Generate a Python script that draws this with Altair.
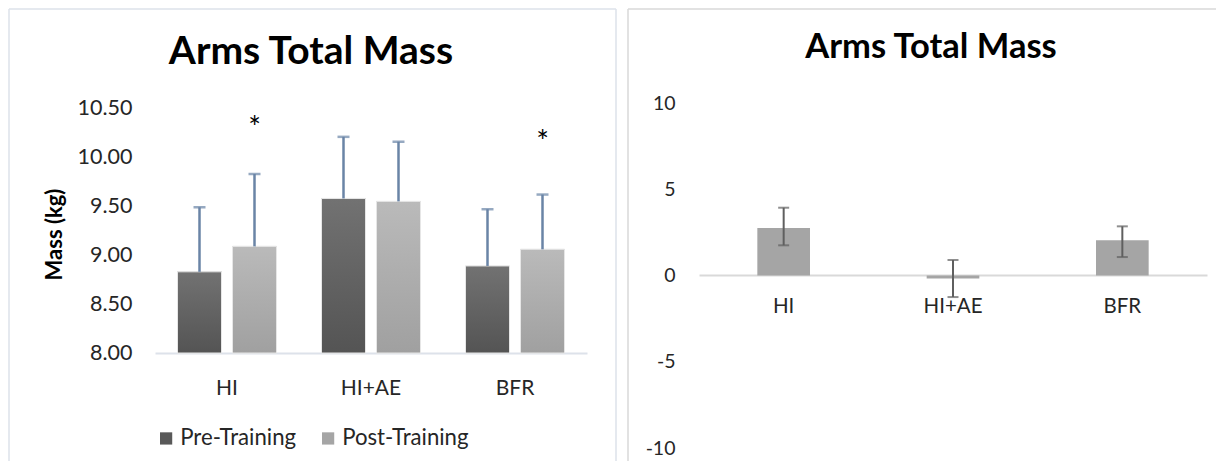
import altair as alt
import pandas as pd

# ---------------- data ----------------
groups = ["HI", "HI+AE", "BFR"]
series = ["Pre-Training", "Post-Training"]
pre_mean = [8.83, 9.58, 8.89]
pre_sd = [0.66, 0.63, 0.58]
post_mean = [9.09, 9.55, 9.06]
post_sd = [0.74, 0.61, 0.56]
star_groups = ["HI", "BFR"]
star_values = [10.36, 10.22]

diff_mean = [2.75, -0.17, 2.04]
diff_err_hi = [3.93, 0.90, 2.85]
diff_err_lo = [1.75, -1.25, 1.07]

left_ticks = [8.0, 8.5, 9.0, 9.5, 10.0, 10.5]
right_ticks = [-10, -5, 0, 5, 10]
y_base = 8.0
title_text = "Arms Total Mass"
y_title = "Mass (kg)"

FONT = "Lato"
TXT = "#262626"

rows = []
for i, g in enumerate(groups):
    rows.append({"group": g, "series": series[0], "mean": pre_mean[i], "top": pre_mean[i] + pre_sd[i]})
    rows.append({"group": g, "series": series[1], "mean": post_mean[i], "top": post_mean[i] + post_sd[i]})
left_df = pd.DataFrame(rows)
star_df = pd.DataFrame({"group": star_groups, "series": [series[1]] * len(star_groups),
                        "y": star_values, "t": ["*"] * len(star_groups)})
right_df = pd.DataFrame({"group": groups, "mean": diff_mean, "hi": diff_err_hi, "lo": diff_err_lo})
one = pd.DataFrame({"t": [title_text]})

# ---------------- left chart ----------------
LW, LH = 432, 250
x_left = alt.X("group:N", sort=groups, title=None,
               scale=alt.Scale(paddingInner=0.3125, paddingOuter=0.15625),
               axis=alt.Axis(labelAngle=0, ticks=False, domainColor="#dde2ea", domainWidth=2,
                             labelFontSize=21, labelColor=TXT, labelFont=FONT, labelPadding=24))
y_left = alt.Y("mean:Q", title=y_title,
               scale=alt.Scale(domain=[8, 10.556], nice=False, zero=False),
               axis=alt.Axis(values=left_ticks, format=".2f", domain=False, ticks=False, grid=False,
                             labelFontSize=21.5, labelColor=TXT, labelFont=FONT, labelPadding=23,
                             titleFont=FONT, titleFontSize=22, titleFontWeight="bold", titleColor="#000000",
                             titleX=-101, titleY=131, titleAngle=-90, titleAlign="center",
                             titleBaseline="middle"))
y2_left = alt.datum(y_base)
xoff = alt.XOffset("series:N", sort=series,
                   scale=alt.Scale(paddingInner=0.2, paddingOuter=0))

base_l = alt.Chart(left_df)
bars_legend = base_l.mark_bar(stroke="#e6e6e6", strokeWidth=1).encode(
    x=x_left, y=y_left, y2=y2_left, xOffset=xoff,
    color=alt.Color("series:N", sort=series,
                    scale=alt.Scale(domain=series, range=["#595959", "#a5a5a5"]),
                    legend=alt.Legend(title=None, orient="none", direction="horizontal",
                                      legendX=0, legendY=324, symbolType="square", symbolSize=150,
                                      symbolStrokeWidth=0, labelFontSize=22.2, labelFont=FONT,
                                      labelColor=TXT, columnPadding=20, labelOffset=3)))

grad_pre = alt.LinearGradient(gradient="linear", x1=0, y1=0, x2=0, y2=1,
                              stops=[alt.GradientStop(color="#727272", offset=0),
                                     alt.GradientStop(color="#545454", offset=1)])
grad_post = alt.LinearGradient(gradient="linear", x1=0, y1=0, x2=0, y2=1,
                               stops=[alt.GradientStop(color="#bababa", offset=0),
                                      alt.GradientStop(color="#a0a0a0", offset=1)])
bars_pre = base_l.transform_filter(alt.datum.series == series[0]).mark_bar(
    fill=grad_pre, stroke="#e6e6e6", strokeWidth=1).encode(x=x_left, y=y_left, y2=y2_left, xOffset=xoff)
bars_post = base_l.transform_filter(alt.datum.series == series[1]).mark_bar(
    fill=grad_post, stroke="#e6e6e6", strokeWidth=1).encode(x=x_left, y=y_left, y2=y2_left, xOffset=xoff)

err_rule = base_l.mark_rule(color="#6a84a6", strokeWidth=2.5).encode(
    x=x_left, xOffset=xoff, y="mean:Q", y2="top:Q")
err_cap = base_l.mark_tick(color="#6a84a6", thickness=2.5, size=12, orient="horizontal").encode(
    x=x_left, xOffset=xoff, y="top:Q")
stars = alt.Chart(star_df).mark_text(fontSize=30, font=FONT, color="#000000", baseline="middle", dy=7).encode(
    x=x_left, xOffset=xoff, y="y:Q", text="t:N")

title_l = alt.Chart(one).mark_text(fontSize=39, font=FONT, fontWeight="bold", color="#000000",
                                   align="center", baseline="alphabetic").encode(
    text="t:N", x=alt.value(156), y=alt.value(-39))

BCOL_L = "#dde2ea"
bl_left = alt.Chart(one).mark_rule(color=BCOL_L, strokeWidth=1.5).encode(
    x=alt.value(-146), y=alt.value(-94), y2=alt.value(358))
bl_top = alt.Chart(one).mark_rule(color=BCOL_L, strokeWidth=1.5).encode(
    x=alt.value(-146), x2=alt.value(461), y=alt.value(-94))
bl_right = alt.Chart(one).mark_rule(color=BCOL_L, strokeWidth=1.5).encode(
    x=alt.value(461), y=alt.value(-94), y2=alt.value(358))

left = alt.layer(bl_left, bl_top, bl_right, title_l, bars_legend, bars_pre, bars_post,
                 err_rule, err_cap, stars).properties(width=LW, height=LH)

# ---------------- right chart ----------------
RW, RH = 508, 345
x_right = alt.X("group:N", sort=groups, title=None,
                scale=alt.Scale(paddingInner=0.689, paddingOuter=0.3445),
                axis=alt.Axis(labelAngle=0, ticks=False, domainColor="#d9d9d9", domainWidth=2,
                              offset=-173, labelFontSize=20.5, labelColor=TXT, labelFont=FONT,
                              labelPadding=21))
y_right = alt.Y("mean:Q", title=None,
                scale=alt.Scale(domain=[-10, 10], nice=False),
                axis=alt.Axis(values=right_ticks, domain=False, ticks=False, grid=False,
                              labelExpr="'' + datum.value",
                              labelFontSize=19.5, labelColor=TXT, labelFont=FONT, labelPadding=24))
base_r = alt.Chart(right_df)
bars_r = base_r.mark_bar(color="#a5a5a5").encode(x=x_right, y=y_right)
err_r = base_r.mark_rule(color="#5f5f5f", strokeWidth=2).encode(x=x_right, y="lo:Q", y2="hi:Q")
cap_hi = base_r.mark_tick(color="#5f5f5f", thickness=2, size=11, orient="horizontal").encode(
    x=x_right, y="hi:Q")
cap_lo = base_r.mark_tick(color="#5f5f5f", thickness=2, size=11, orient="horizontal").encode(
    x=x_right, y="lo:Q")
title_r = alt.Chart(one).mark_text(fontSize=34.5, font=FONT, fontWeight="bold", color="#000000",
                                   align="center", baseline="alphabetic").encode(
    text="t:N", x=alt.value(232), y=alt.value(-45))
BCOL_R = "#d9d9d9"
br_left = alt.Chart(one).mark_rule(color=BCOL_R, strokeWidth=1.5).encode(
    x=alt.value(-71), y=alt.value(-94), y2=alt.value(358))
br_top = alt.Chart(one).mark_rule(color=BCOL_R, strokeWidth=1.5).encode(
    x=alt.value(-71), x2=alt.value(517), y=alt.value(-94))

right = alt.layer(br_left, br_top, title_r, bars_r, err_r, cap_hi, cap_lo).properties(width=RW, height=RH)

chart = alt.hconcat(left, right, spacing=10).resolve_scale(color="independent").configure(
    padding=0, background="#ffffff"
).configure_view(stroke=None)

chart.save("out.html", embed_options={"renderer": "svg", "actions": False})
